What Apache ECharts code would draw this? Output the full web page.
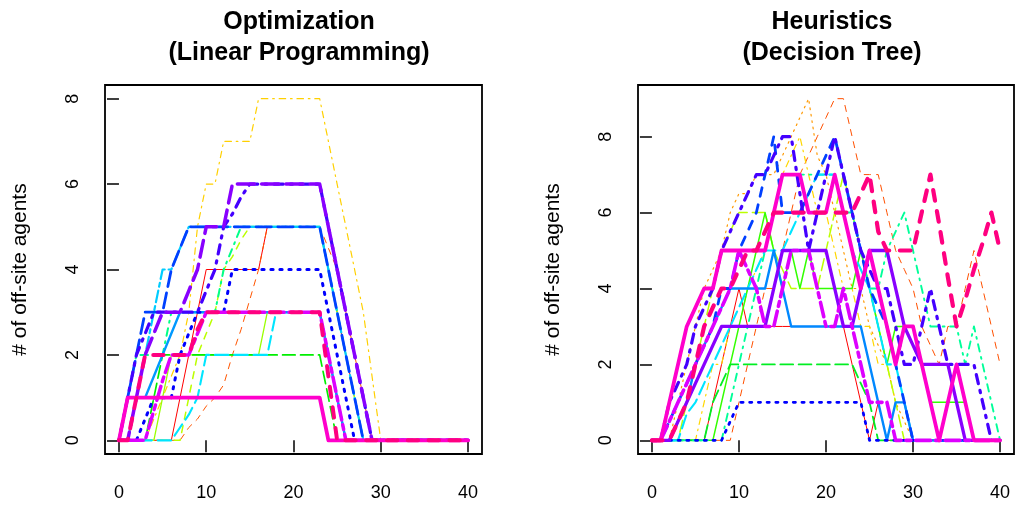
<!DOCTYPE html>
<html>
<head>
<meta charset="utf-8">
<script src="https://cdn.jsdelivr.net/npm/echarts@6/dist/echarts.min.js"></script>
<style>
  html, body { margin: 0; padding: 0; background: #fff; }
  #chart { width: 1016px; height: 510px; }
</style>
</head>
<body>
<div id="chart"></div>
<script>
// time steps shared by every trajectory
const timeSteps = [0,1,2,3,4,5,6,7,8,9,10,11,12,13,14,15,16,17,18,19,20,21,22,23,24,25,26,27,28,29,30,31,32,33,34,35,36,37,38,39,40];
const xTicks = [0, 10, 20, 30, 40];
const yTicks = [0, 2, 4, 6, 8];

// Optimization (Linear Programming) - off-site agents per time step
const lpRed       = [0,0,0,0,0,0,0,1,2,3,4,4,4,4,4,4,4,5,5,5,5,5,5,5,4,3,2,1,0,0,0,0,0,0,0,0,0,0,0,0,0];
const lpOrange    = [0,0,0,0,0,0,0,0,0.3,0.5,0.8,1,1.3,2,2.6,3.3,4,5,5,5,5,5,5,5,4.5,4,3,2,1,0,0,0,0,0,0,0,0,0,0,0,0];
const lpYellow    = [0,0,0,0,0.5,1,1.5,2,3,5,6,6,7,7,7,7,8,8,8,8,8,8,8,8,7,6,5,4,3,1.5,0,0,0,0,0,0,0,0,0,0,0];
const lpLime      = [0,0,0,0,0,1,2,2,2,2,2,2,2,2,2,2,2,3,3,3,3,3,3,3,2,1,0,0,0,0,0,0,0,0,0,0,0,0,0,0,0];
const lpLimeDash  = [0,0,0,0,0,0,0,0,1,2,2.5,3,4,4.3,4.7,5,5,5,5,5,5,5,5,5,4,3,2,1,0,0,0,0,0,0,0,0,0,0,0,0,0];
const lpGreen     = [0,0,0,0,1,2,2,2,2,2,2,2,2,2,2,2,2,2,2,2,2,2,2,2,1,0,0,0,0,0,0,0,0,0,0,0,0,0,0,0,0];
const lpSpring    = [0,1,2,2,2,2,3,3,3,3,3,3,4,4.5,5,5,5,5,5,5,5,5,5,5,4,3,2,1,0,0,0,0,0,0,0,0,0,0,0,0,0];
const lpCyan      = [0,0,0,0,0,0,0,0.3,0.6,1,2,2,2,2,2,2,2,2,3,3,3,3,3,3,2,1,0,0,0,0,0,0,0,0,0,0,0,0,0,0,0];
const lpSky       = [0,0,1,2,3,4,4,4.5,5,5,5,5,5,5,5,5,5,5,5,5,5,5,5,5,4,3,2,1,0,0,0,0,0,0,0,0,0,0,0,0,0];
const lpAzure     = [0,1,1,1,1.5,2,2.5,3,3,3,3,3,3,3,3,3,3,3,3,3,3,3,3,3,2,1,0,0,0,0,0,0,0,0,0,0,0,0,0,0,0];
const lpBlue      = [0,1,2,3,3,3,4,4.5,5,5,5,5,5,5,5,5,5,5,5,5,5,5,5,5,4,3,2,1,0,0,0,0,0,0,0,0,0,0,0,0,0];
const lpBlueDot   = [0,0,0,0.5,1,1,1,2,2.5,3,3,3,3,4,4,4,4,4,4,4,4,4,4,4,3,2,1,0,0,0,0,0,0,0,0,0,0,0,0,0,0];
const lpIndigo    = [0,1,2,2.5,3,3,3,3,3,3,3.5,4,5,5.3,5.7,6,6,6,6,6,6,6,6,6,5,4,3,2,1,0,0,0,0,0,0,0,0,0,0,0,0];
const lpViolet    = [0,0,1,2,2.5,3,3,3,3.5,4,5,5,5,6,6,6,6,6,6,6,6,6,6,6,5,4,3,2,1,0,0,0,0,0,0,0,0,0,0,0,0];
const lpMagenta   = [0,0,0,0,0.7,1.4,2,2,2,2.5,3,3,3,3,3,3,3,3,3,3,3,3,3,3,2,1,0,0,0,0,0,0,0,0,0,0,0,0,0,0,0];
const lpPink      = [0,1,1,1,1,1,1,1,1,1,1,1,1,1,1,1,1,1,1,1,1,1,1,1,0,0,0,0,0,0,0,0,0,0,0,0,0,0,0,0,0];
const lpRose      = [0,0,1,2,2,2,2,2,2,2.6,3,3,3,3,3,3,3,3,3,3,3,3,3,3,1.5,0,0,0,0,0,0,0,0,0,0,0,0,0,0,0,0];

// Heuristics (Decision Tree) - off-site agents per time step
const dtRed       = [0,0,0,0,0,0,0,1,2,3,4,3,3,3,3,3,3,3,3,3,3,3,3,2,1,0,1,0,0,0,0,0,0,0,0,0,0,0,0,0,0];
const dtOrangeRed = [0,0,0,0,0,0,0,0,0,0,1,2,3,4,4,5,6,7,7.5,8,8.5,9,9,8,7,7,7,6,5,4.5,4,3,2.5,2,3,3,4,5,4,3,2];
const dtOrange    = [0,0,0,1,2,3,4,4.5,5,6,6.5,6.5,7,7,7,7.5,8,8.5,9,7.5,7,6,5,4,4,3,2.5,2,1,0.5,0,0,0,0,0,0,0,0,0,0,0];
const dtYellow    = [0,0,0,0,0,0,1,2,2,3,3,4,4.5,5,6,7,7.5,8,7,6,6,5,4,4,3,3,2,2,1,1,0,0,0,0,0,0,0,0,0,0,0];
const dtLimeDash  = [0,0,0,0,1,2,3,4,5,5.5,6,6,6,6,5,4.5,4,4,4,4,5,6,7,6,5,4,3,2,1,0,0,0,0,0,0,0,0,0,0,0,0];
const dtLime      = [0,0,0,0,0,0,0,0,1,2,3,4,5,6,5,4,5,4,5,4,4,4,4,4,5,4,3,2,3,3,3,2,1,1,1,1,1,0,0,0,0];
const dtGreen     = [0,0,0,0,0,0,0,1,1.5,2,2,2,2,2,2,2,2,2,2,2,2,2,2,2,1.5,1,0,0,0,0,0,0,0,0,0,0,0,0,0,0,0];
const dtSpring    = [0,0,0,0,0,0,0,0,0,1,2,3,4,5,6,7,7,7,7,7,7,7,6,6,5,4,4,5,5.5,6,5,4,3,3,3,3,2,3,2,1,0];
const dtCyan      = [0,0,0,0,0.7,1,1.5,2,2.5,3,3.5,4,4.5,5,5,5,5.5,6,6.5,7,7,7,6,5,4.5,4,3,2,2,1,0,0,0,0,0,0,0,0,0,0,0];
const dtAzure     = [0,0,0,0.5,1,2,2.5,3,3.5,4,4,4,4,4,5,4,3,3,3,3,3,3,3,3,3,2,1,0,1,1,0,0,0,0,0,0,0,0,0,0,0];
const dtBlueDot   = [0,0,0,0,0,0,0,0,0,0.5,1,1,1,1,1,1,1,1,1,1,1,1,1,1,1,0,0,0,0,0,0,0,0,0,0,0,0,0,0,0,0];
const dtBlue      = [0,0,0.5,1,1.5,2,2.5,3,4,4,5,5.5,6,7,8,6,6,6,6.5,7,7.5,8,7,6,5,4,3.5,3,2,1,0,0,0,0,0,0,0,0,0,0,0];
const dtIndigo    = [0,0,1,1.5,2,3,3.5,4,5,5.5,6,6.5,7,7,7.5,8,8,6.5,5,6,7,8,7,6,5,4.5,4,4,3,2,2,3,4,3,2,2,2,2,1,0,0];
const dtViolet    = [0,0,0,0.5,1,1.5,2,2.5,3,3,3,3,3,3,4,5,5,5,5,5,5,4,3,3,4,5,5,5,4,3,2.5,2,2,2,2,1,0,0,0,0,0];
const dtMagenta   = [0,0,0.5,1,1.5,2,2.5,3,3.5,4,5,4.5,4,3,3,4,5,5,5,4,3,3,4,3,2,1,1,1,0,0,0,0,0,0,0,0,0,0,0,0,0];
const dtPink      = [0,0,1,2,3,3.5,4,4,5,5,5,5,5,5,6,7,7,7,6,6,6,7,6,5,4,5,4,3,2,3,3,2,1,0,1,2,1,0,0,0,0];
const dtRose      = [0,0,0,0.5,1,2,3,3.5,4,4,4.5,5,5,5.5,6,6,6,6,6,6,6,6,6,6,6.5,7,5.5,5,5,5,5,6,7,5.7,4.3,3,3.7,4.5,5.2,6,5];

// R-like line types
const DASH = { dashed: [4, 4], dotted: [1, 3], dotdash: [1, 3, 4, 3], longdash: [7, 3], twodash: [2, 2, 6, 2] };
function lineType(kind, w) {
  if (kind === 'solid') return 'solid';
  const u = 1.2 + 0.35 * w;
  return DASH[kind].map(d => d * u);
}

// [values, color, line type, width]
const leftLines = [
  [lpRed, '#FF0000', 'solid', 1],
  [lpOrange, '#FF5500', 'dashed', 1],
  [lpYellow, '#FFD000', 'dotdash', 1.2],
  [lpLime, '#99FF00', 'solid', 1.3],
  [lpLimeDash, '#BBFF00', 'dashed', 1.5],
  [lpGreen, '#00EE00', 'longdash', 1.7],
  [lpSpring, '#00FF88', 'dotdash', 2],
  [lpCyan, '#00E5FF', 'longdash', 2.1],
  [lpSky, '#00CCFF', 'twodash', 2.2],
  [lpAzure, '#0099FF', 'solid', 2.4],
  [lpBlue, '#0040FF', 'longdash', 2.8],
  [lpBlueDot, '#0000FF', 'dotted', 3],
  [lpIndigo, '#4400FF', 'dotdash', 3.2],
  [lpViolet, '#8800FF', 'longdash', 3.5],
  [lpMagenta, '#DD00FF', 'twodash', 3.5],
  [lpPink, '#FF00CC', 'solid', 3.8],
  [lpRose, '#FF0080', 'dashed', 4]
];
const rightLines = [
  [dtRed, '#FF0000', 'solid', 1],
  [dtOrangeRed, '#FF5000', 'dashed', 1],
  [dtOrange, '#FF9900', 'dotted', 1.2],
  [dtYellow, '#FFD700', 'dotdash', 1.2],
  [dtLimeDash, '#BBFF00', 'longdash', 1.5],
  [dtLime, '#33FF00', 'solid', 1.5],
  [dtGreen, '#00EE22', 'longdash', 1.8],
  [dtSpring, '#00FF99', 'dotdash', 1.9],
  [dtCyan, '#00E5FF', 'longdash', 2.1],
  [dtAzure, '#0088FF', 'solid', 2.4],
  [dtBlueDot, '#0000FF', 'dotted', 2.8],
  [dtBlue, '#0040FF', 'dashed', 2.8],
  [dtIndigo, '#4400FF', 'dotdash', 3.2],
  [dtViolet, '#8800FF', 'solid', 3.3],
  [dtMagenta, '#DD00FF', 'twodash', 3.6],
  [dtPink, '#FF00CC', 'solid', 3.8],
  [dtRose, '#FF0080', 'dashed', 4.2]
];

const FONT = '"Liberation Sans", Arial, Helvetica, sans-serif';

function makeSeries(lines, idx) {
  return lines.map(([vals, color, kind, w]) => ({
    type: 'line',
    xAxisIndex: idx,
    yAxisIndex: idx,
    data: timeSteps.map((t, i) => [t, vals[i]]),
    showSymbol: false,
    symbol: 'none',
    silent: true,
    lineStyle: { color: color, width: w, type: lineType(kind, w), cap: 'round', join: 'round' }
  }));
}

function xAxis(idx) {
  return {
    type: 'value', gridIndex: idx, min: -1.6, max: 41.6,
    axisLine: { show: false }, splitLine: { show: false },
    axisTick: { show: true, customValues: xTicks, length: 12, lineStyle: { color: '#000', width: 1.5 } },
    axisLabel: { customValues: xTicks, color: '#000', fontSize: 18, fontFamily: FONT, margin: 30 }
  };
}
function yAxis(idx, min, max) {
  return {
    type: 'value', gridIndex: idx, min: min, max: max,
    axisLine: { show: false }, splitLine: { show: false },
    axisTick: { show: true, customValues: yTicks, length: 12, lineStyle: { color: '#000', width: 1.5 } },
    axisLabel: { customValues: yTicks, color: '#000', fontSize: 18, fontFamily: FONT, rotate: 90, margin: 23 },
    name: '# of off-site agents', nameLocation: 'middle', nameGap: 74, nameRotate: 90,
    nameTextStyle: { color: '#000', fontSize: 21, fontFamily: FONT }
  };
}

const chart = echarts.init(document.getElementById('chart'), null, { renderer: 'canvas' });
chart.setOption({
  animation: false,
  backgroundColor: '#fff',
  title: [
    { text: 'Optimization\n(Linear Programming)', left: 294, top: 2, textAlign: 'center',
      textStyle: { fontSize: 25, fontWeight: 'bold', color: '#000', fontFamily: FONT, lineHeight: 31 } },
    { text: 'Heuristics\n(Decision Tree)', left: 827, top: 2, textAlign: 'center',
      textStyle: { fontSize: 25, fontWeight: 'bold', color: '#000', fontFamily: FONT, lineHeight: 31 } }
  ],
  grid: [
    { left: 105, top: 85, width: 377, height: 369, show: true, borderColor: '#000', borderWidth: 1.8, backgroundColor: 'transparent' },
    { left: 638, top: 85, width: 376, height: 369, show: true, borderColor: '#000', borderWidth: 1.8, backgroundColor: 'transparent' }
  ],
  xAxis: [xAxis(0), xAxis(1)],
  yAxis: [yAxis(0, -0.32, 8.32), yAxis(1, -0.36, 9.36)],
  series: makeSeries(leftLines, 0).concat(makeSeries(rightLines, 1))
});
</script>
</body>
</html>
